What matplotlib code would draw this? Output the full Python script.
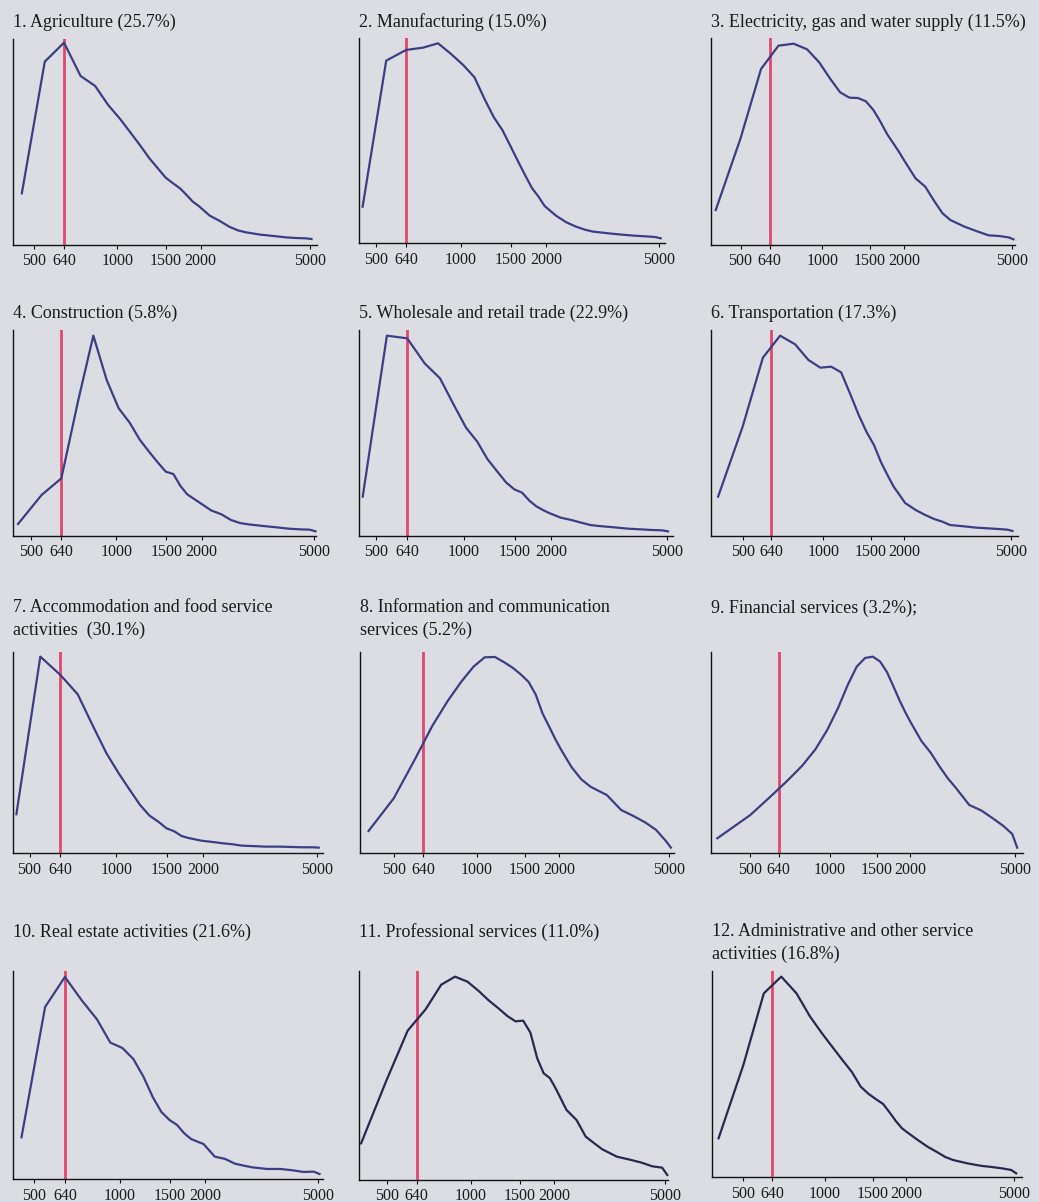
import matplotlib
matplotlib.use("Agg")
import matplotlib.pyplot as plt

# ---------------- data ----------------
# monthly wage bins (log-scaled x axis)
wage_a = [450, 545, 640, 735, 830, 925, 1020, 1115, 1210, 1305, 1400, 1495, 1590, 1685,
          1780, 1875, 1970, 2160, 2350, 2540, 2730, 2920, 3300, 3680, 4060, 4440, 4820, 5050]
wage_b = [405, 500, 595, 690, 785, 880, 975, 1070, 1165, 1260, 1355, 1450, 1545, 1640,
          1735, 1830, 1925, 2020, 2210, 2400, 2590, 2780, 2970, 3350, 3730, 4110, 4490, 4870, 5080]
wage_fin = [375, 500, 595, 690, 785, 880, 975, 1070, 1165, 1260, 1355, 1450, 1545, 1640,
            1735, 1830, 1925, 2020, 2210, 2400, 2590, 2780, 2970, 3350, 3730, 4110, 4490, 4870, 5080]

# relative density of employees (arbitrary units)
agriculture = [155, 550, 607, 507, 477, 420, 379, 337, 298, 260, 230, 202, 185, 170, 150, 130,
               117, 88, 72, 55, 44, 38, 31, 27, 23, 21, 20, 18]
manufacturing = [110, 548, 580, 587, 600, 567, 534, 498, 433, 378, 339, 291, 245, 203, 165, 140,
                 112, 83, 63, 50, 41, 35, 30, 26, 23, 21, 19, 15]
electricity = [105, 320, 528, 598, 604, 587, 548, 499, 458, 442, 441, 431, 405, 370, 333, 305,
               278, 250, 200, 175, 132, 95, 75, 55, 41, 29, 27, 23, 17]
construction = [36, 123, 173, 409, 601, 468, 383, 340, 289, 253, 221, 193, 186, 150, 125, 112,
                100, 77, 65, 48, 39, 35, 30, 26, 22, 20, 19, 14]
trade = [118, 601, 593, 518, 473, 394, 325, 283, 230, 194, 161, 140, 130, 106, 89, 78,
         69, 55, 48, 40, 33, 30, 26, 22, 20, 18, 17, 14]
transportation = [118, 328, 535, 601, 575, 528, 505, 508, 491, 426, 363, 312, 273, 222, 183, 148,
                  123, 99, 78, 63, 51, 43, 33, 29, 25, 23, 21, 19, 15]
accommodation = [117, 590, 535, 477, 382, 300, 240, 190, 145, 113, 95, 75, 66, 52, 46, 42,
                 38, 34, 30, 27, 23, 22, 20, 20, 19, 18, 18, 17]
information = [67, 165, 280, 382, 457, 515, 560, 588, 589, 573, 556, 536, 514, 476, 420, 382,
               345, 313, 259, 222, 200, 187, 175, 130, 111, 92, 70, 37, 17]
financial = [45, 115, 170, 218, 263, 312, 370, 435, 505, 560, 586, 590, 575, 543, 500, 458,
             422, 391, 337, 301, 260, 225, 198, 145, 128, 105, 83, 58, 17]
real_estate = [126, 517, 607, 536, 480, 410, 394, 361, 308, 247, 202, 178, 163, 138, 121, 113,
               106, 68, 61, 47, 41, 36, 31, 31, 27, 22, 23, 16]
professional = [110, 300, 448, 512, 586, 610, 595, 567, 538, 515, 492, 476, 478, 442, 365, 320,
                306, 275, 210, 180, 130, 110, 92, 70, 61, 52, 41, 37, 15]
administrative = [117, 337, 552, 602, 552, 483, 432, 389, 350, 315, 272, 250, 234, 220, 194, 168,
                  147, 134, 111, 91, 76, 61, 52, 42, 35, 31, 27, 22, 12]

titles = [
    "1. Agriculture (25.7%)",
    "2. Manufacturing (15.0%)",
    "3. Electricity, gas and water supply (11.5%)",
    "4. Construction (5.8%)",
    "5. Wholesale and retail trade (22.9%)",
    "6. Transportation (17.3%)",
    "7. Accommodation and food service\nactivities  (30.1%)",
    "8. Information and communication\nservices (5.2%)",
    "9. Financial services (3.2%);",
    "10. Real estate activities (21.6%)",
    "11. Professional services (11.0%)",
    "12. Administrative and other service\nactivities (16.8%)",
]
xs = [wage_a, wage_a, wage_b, wage_a, wage_a, wage_b,
      wage_a, wage_b, wage_fin, wage_a, wage_b, wage_b]
ys = [agriculture, manufacturing, electricity, construction, trade, transportation,
      accommodation, information, financial, real_estate, professional, administrative]

threshold = 640
tick_values = [500, 640, 1000, 1500, 2000, 5000]
tick_labels = ["500", "640", "1000", "1500", "2000", "5000"]

# ---------------- layout (pixels) ----------------
W, H = 1039, 1202
# left, top, right, bottom of each axes
rects = [
    (12.7, 39.3, 316.7, 245), (359.3, 38.3, 665, 243.3), (710.7, 38.3, 1015, 245),
    (12.7, 330, 316, 536), (359.3, 330, 672.7, 536), (711.3, 330, 1018.3, 536),
    (12.7, 651.7, 322.7, 853.3), (360, 651.7, 674, 853.3), (711.3, 651.7, 1023.3, 853.3),
    (12.7, 971, 323.3, 1179.3), (359.3, 971, 668, 1180), (711.7, 971, 1021.7, 1177.3),
]
xlims = [(417, 5273), (438, 5233), (388, 5144), (431, 5069), (438, 5243), (382, 5339),
         (437, 5214), (377, 5213), (356, 5359), (419, 5208), (399, 5110), (382, 5325)]
title_base = [27.3, 27.3, 27.3, 318.3, 318.3, 318.3, 612.5, 612.5, 612.5, 936.7, 936.7, 936.5]
line_step = 22.4

BG = "#dcdde2"
BLUE = "#3c3e85"
NAVY = "#28294f"
RED = "#e2466f"
line_colors = [BLUE] * 10 + [NAVY, NAVY]

plt.rcParams["font.family"] = ["Liberation Serif", "DejaVu Serif"]

fig = plt.figure(figsize=(W / 100, H / 100), dpi=100, facecolor=BG)

for i in range(12):
    l, t, r, b = rects[i]
    ax = fig.add_axes([l / W, 1 - b / H, (r - l) / W, (b - t) / H])
    ax.set_facecolor(BG)
    ax.set_xscale("log")
    ax.plot(xs[i], ys[i], color=line_colors[i], lw=1.6, solid_joinstyle="round",
            clip_on=False, zorder=3)
    ax.axvline(threshold, color=RED, lw=2.0, zorder=2)
    ax.set_xlim(*xlims[i])
    ax.set_ylim(0, 3 * (b - t))
    ax.set_xticks(tick_values)
    ax.set_xticklabels(tick_labels)
    ax.minorticks_off()
    ax.set_yticks([])
    for s in ("top", "right"):
        ax.spines[s].set_visible(False)
    for s in ("left", "bottom"):
        ax.spines[s].set_linewidth(1.0)
        ax.spines[s].set_color("#111111")
    ax.tick_params(axis="x", which="major", length=3, width=0.8, pad=3,
                   labelsize=11.5, color="#111111", labelcolor="#1a1a1a")
    for k, line in enumerate(titles[i].split("\n")):
        fig.text(l / W, 1 - (title_base[i] + k * line_step) / H, line,
                 ha="left", va="baseline", fontsize=13, color="#1a1a1a")

fig.savefig("out.png", dpi=100, facecolor=BG)
